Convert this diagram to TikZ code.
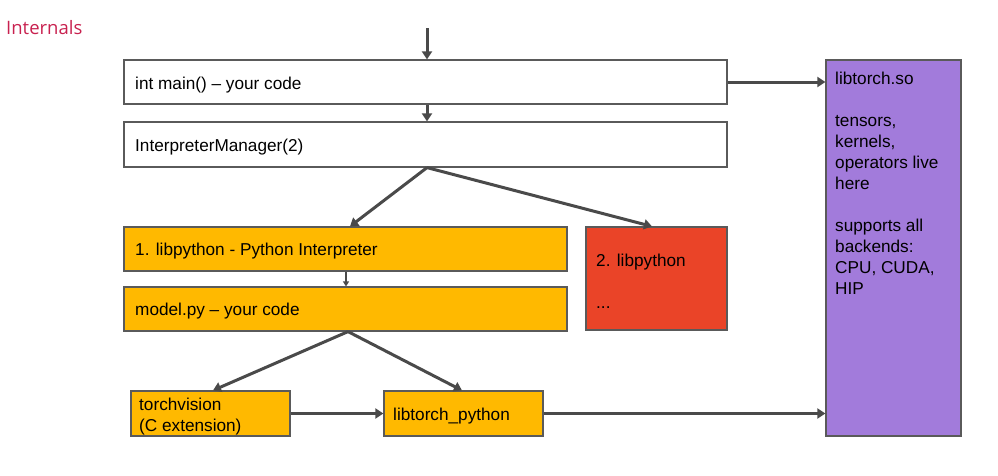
\documentclass[tikz,border=0pt]{standalone}
\usepackage{fontspec}
\setmainfont{Liberation Sans}
\newfontfamily\titlefont{Open Sans}
\usetikzlibrary{arrows.meta,calc}
\definecolor{boxorange}{HTML}{FFB900}
\definecolor{boxred}{HTML}{EA4428}
\definecolor{boxpurple}{HTML}{A27BDB}
\definecolor{edgegray}{HTML}{5A5A5A}
\definecolor{arrowgray}{HTML}{4A4A4A}
\definecolor{titlered}{HTML}{C8214F}
\tikzset{
  box/.style={draw=edgegray, line width=1.2pt, inner sep=0pt},
  flow/.style={draw=arrowgray, line width=3pt, -{Triangle[length=8pt,width=10pt]}},
  thinflow/.style={draw=arrowgray, line width=1.5pt, -{Triangle[length=5pt,width=6pt]}},
  txt/.style={inner sep=0pt, font=\fontsize{17.2}{21}\selectfont, align=left, anchor=north west}
}
\begin{document}
\begin{tikzpicture}[x=1pt,y=-1pt]
\useasboundingbox (0,0) rectangle (998,475);
\node[anchor=west, inner sep=0pt, text=titlered, font=\titlefont\fontsize{18.5}{22}\selectfont] (title) at (6,27.5) {Internals};

\node[box, fill=white, minimum width=603pt, minimum height=44pt] (main) at (425.5,82) {};
\node[txt, anchor=west] (maintext) at (135,85) {int main() – your code};
\node[box, fill=white, minimum width=603pt, minimum height=45pt] (mgr) at (425.5,144.5) {};
\node[txt, anchor=west] (mgrtext) at (135,147.5) {InterpreterManager(2)};

\node[box, fill=boxorange, minimum width=443pt, minimum height=44pt] (lp1) at (345.5,249) {};
\node[txt, anchor=west] (lp1text) at (135,251.5) {1. libpython - Python Interpreter};
\node[box, fill=boxred, minimum width=141pt, minimum height=103pt] (lp2) at (656.5,278.5) {};
\node[txt, anchor=west] (lp2text) at (596,281) {2. libpython\\[21pt]...};
\node[box, fill=boxorange, minimum width=443pt, minimum height=44pt] (model) at (345.5,309) {};
\node[txt, anchor=west] (modeltext) at (135,311.5) {model.py – your code};

\node[box, fill=boxorange, minimum width=159pt, minimum height=45pt] (tv) at (210.5,413.5) {};
\node[txt, anchor=west] (tvtext) at (139,416.5) {torchvision\\(C extension)};
\node[box, fill=boxorange, minimum width=159pt, minimum height=45pt] (ltp) at (463.5,413.5) {};
\node[txt, anchor=west] (ltptext) at (393,416) {libtorch\_python};

\node[box, fill=boxpurple, minimum width=135pt, minimum height=376pt] (lt) at (893.5,248) {};
\node[txt] (lttext) at (835,72) {libtorch.so\\[21pt]tensors,\\kernels,\\operators live\\here\\[21pt]supports all\\backends:\\CPU, CUDA,\\HIP};

\coordinate (top) at (427,28);
\draw[flow] (top) -- (top |- main.north);
\draw[flow] (main.south -| top) -- (mgr.north -| top);
\coordinate (split) at (mgr.south -| top);
\draw[flow] (split) -- ($(lp1.north)+(4.5,0)$);
\draw[flow] (split) -- ($(lp2.north)+(-4.5,0)$);
\draw[thinflow] ($(lp1.south)+(0.5,0)$) -- ($(model.north)+(0.5,0)$);
\coordinate (split2) at ($(model.south)+(2.5,0)$);
\draw[flow] (split2) -- ($(tv.north)+(2.5,0)$);
\draw[flow] (split2) -- ($(ltp.north)+(-1.5,0)$);
\draw[flow] (tv.east) -- (ltp.west);
\draw[flow] (ltp.east) -- (ltp.east -| lt.west);
\draw[flow] (main.east) -- (main.east -| lt.west);
\end{tikzpicture}
\end{document}
